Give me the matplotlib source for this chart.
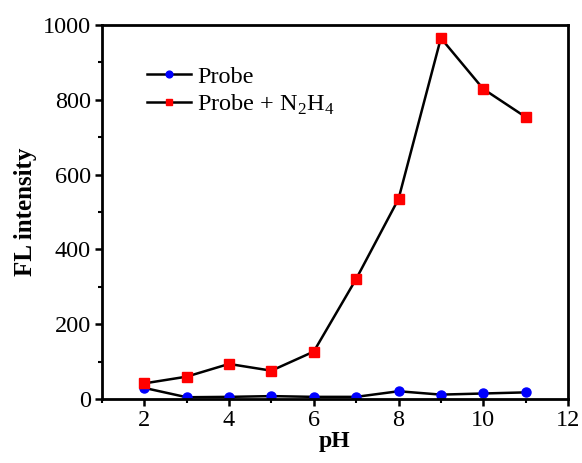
import numpy as np
import matplotlib.pyplot as plt
from matplotlib.ticker import MultipleLocator

plt.rcParams['font.family'] = ['Liberation Serif', 'DejaVu Serif']
plt.rcParams['mathtext.fontset'] = 'custom'
plt.rcParams['mathtext.rm'] = 'Liberation Serif'

ph = [2, 3, 4, 5, 6, 7, 8, 9, 10, 11]
probe = [30, 5, 6, 8, 6, 6, 21, 12, 15, 18]
probe_n2h4 = [42, 60, 94, 76, 127, 321, 535, 965, 829, 754]

fig = plt.figure(figsize=(5.82, 4.63), dpi=100)
ax = fig.add_axes([0.175, 0.138, 0.801, 0.808])

ax.plot(ph, probe, color='black', lw=1.8, marker='o', ms=6.5,
        mfc='#0000ff', mec='#0000ff', label='Probe')
ax.plot(ph, probe_n2h4, color='black', lw=1.8, marker='s', ms=6.5,
        mfc='#ff0000', mec='#ff0000', label='Probe + N$_2$H$_4$')

ax.set_xlim(1, 12)
ax.set_ylim(0, 1000)
ax.xaxis.set_major_locator(MultipleLocator(2))
ax.xaxis.set_minor_locator(MultipleLocator(1))
ax.yaxis.set_major_locator(MultipleLocator(200))
ax.yaxis.set_minor_locator(MultipleLocator(100))
ax.tick_params(which='major', length=5, width=1.8, labelsize=17.5, direction='out', pad=3)
ax.tick_params(which='minor', length=3, width=1.5, direction='out')
for s in ax.spines.values():
    s.set_linewidth(2)

ax.set_xlabel('pH', fontsize=17, fontweight='bold', labelpad=0)
ax.set_ylabel('FL intensity', fontsize=18, fontweight='bold', labelpad=4)

ax.legend(loc='upper left', bbox_to_anchor=(0.05, 0.95), frameon=False,
          fontsize=17.5, handlelength=1.8, handletextpad=0.25, labelspacing=0.2,
          markerscale=0.75)

fig.savefig('out.png', dpi=100)
